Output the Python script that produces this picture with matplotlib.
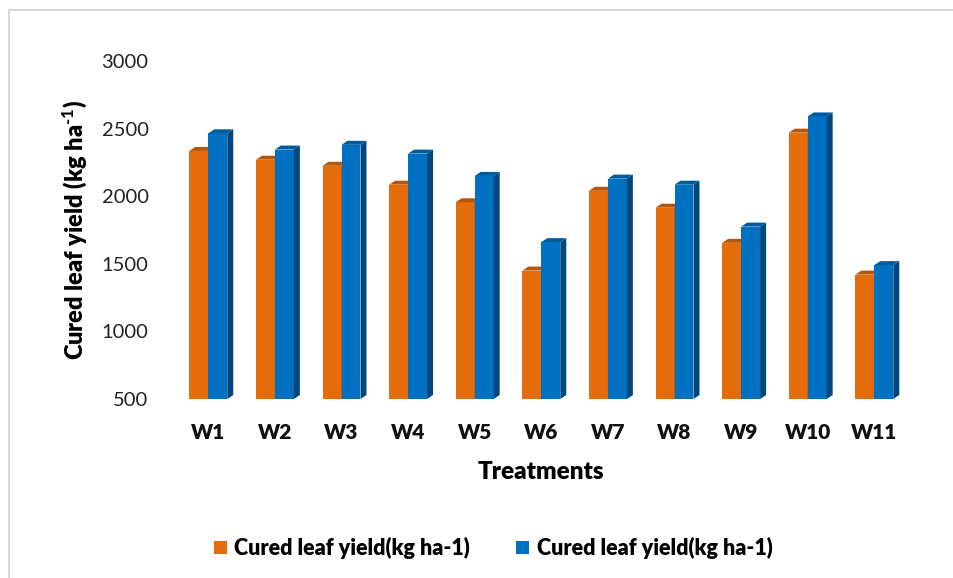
import matplotlib
matplotlib.use("Agg")
import matplotlib.pyplot as plt
from matplotlib.patches import Polygon, Patch
from matplotlib.lines import Line2D
import numpy as np

categories = ["W1", "W2", "W3", "W4", "W5", "W6", "W7", "W8", "W9", "W10", "W11"]
series1 = [2335, 2270, 2225, 2085, 1955, 1450, 2040, 1915, 1655, 2470, 1420]
series2 = [2465, 2345, 2380, 2315, 2150, 1660, 2130, 2085, 1775, 2590, 1490]
series_names = ["Cured leaf yield(kg ha-1)", "Cured leaf yield(kg ha-1)"]
yticks = [500, 1000, 1500, 2000, 2500, 3000]

plt.rcParams['font.family'] = ['Lato', 'DejaVu Sans']
plt.rcParams['mathtext.fontset'] = 'custom'
plt.rcParams['mathtext.rm'] = 'Lato:bold'
plt.rcParams['mathtext.bf'] = 'Lato:bold'
plt.rcParams['mathtext.it'] = 'Lato:bold'

W, H = 954, 578
fig = plt.figure(figsize=(W / 100, H / 100), dpi=100)
ax = fig.add_axes([175 / W, 1 - 399 / H, 732.6 / W, (399 - 61) / H])

ymin, ymax = 500, 3000
ax.set_xlim(-0.5, len(categories) - 0.5)
ax.set_ylim(ymin, ymax)

bw = 0.285
x = np.arange(len(categories))
ax_w_px = 732.6
ax_h_px = 338
dx = 6 * (len(categories)) / ax_w_px
dy = 4 * (ymax - ymin) / ax_h_px

fronts = ["#E46C0A", "#0070C0"]
tops = ["#B5560A", "#005A9E"]
sides = ["#A34A05", "#00477D"]

for s, (vals, off) in enumerate([(series1, -bw / 2), (series2, bw / 2)]):
    xs = x + off
    ax.bar(xs, np.array(vals) - ymin, bottom=ymin, width=bw, color=fronts[s],
           edgecolor="none", zorder=3 + s * 2)
    for xi, v in zip(xs, vals):
        xl, xr = xi - bw / 2, xi + bw / 2
        top = Polygon([(xl, v), (xr, v), (xr + dx, v + dy), (xl + dx, v + dy)],
                      closed=True, facecolor=tops[s], edgecolor="none", zorder=3 + s * 2)
        side = Polygon([(xr, ymin), (xr, v), (xr + dx, v + dy), (xr + dx, ymin + dy)],
                       closed=True, facecolor=sides[s], edgecolor="none", zorder=4 + s * 2)
        ax.add_patch(top)
        ax.add_patch(side)

for sp in ax.spines.values():
    sp.set_visible(False)
ax.set_yticks(yticks)
ax.set_yticklabels([str(t) for t in yticks], fontsize=14.5, color="#222222")
ax.set_xticks(x)
ax.set_xticklabels(categories, fontsize=15, fontweight="heavy", color="#111111")
ax.tick_params(axis="both", length=0)
ax.tick_params(axis="y", pad=19)
ax.tick_params(axis="x", pad=17)
ax.set_xlabel("Treatments", fontsize=17.5, fontweight="heavy", labelpad=14)
ax.set_ylabel("Cured leaf yield (kg ha$^{\\text{-1}}$)", fontsize=17, fontweight="heavy", labelpad=9)

handles = [Patch(facecolor=fronts[0]), Patch(facecolor=fronts[1])]
fig.legend(handles, series_names, loc="center", bbox_to_anchor=(493 / W, 1 - 548 / H),
           ncol=2, frameon=False, prop={"size": 15.5, "weight": "heavy"},
           handlelength=0.6, handleheight=0.6, columnspacing=2.15, handletextpad=0.35)

fig.add_artist(Line2D([9 / W, 1], [1 - 10 / H, 1 - 10 / H], color="#D9D9D9", lw=1.5,
                      transform=fig.transFigure))
fig.add_artist(Line2D([9 / W, 9 / W], [0, 1 - 10 / H], color="#D9D9D9", lw=1.5,
                      transform=fig.transFigure))

fig.savefig("out.png", dpi=100, facecolor="white")
